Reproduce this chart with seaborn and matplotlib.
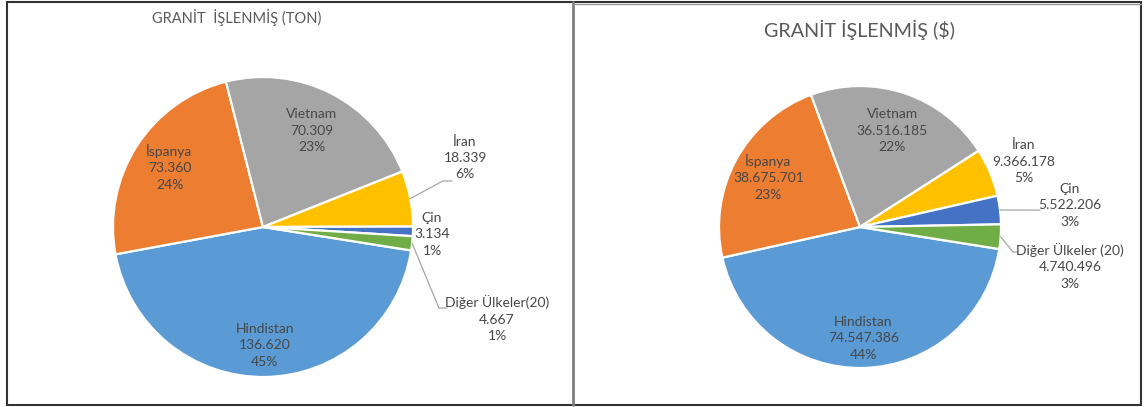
import numpy as np
import matplotlib
matplotlib.use("Agg")
import matplotlib.pyplot as plt
from matplotlib.patches import Rectangle
from matplotlib.lines import Line2D
import seaborn as sns

# ---------------- data ----------------
countries = ["Hindistan", "İspanya", "Vietnam", "İran", "Çin", "Diğer Ülkeler(20)"]
countries_right = ["Hindistan", "İspanya", "Vietnam", "İran", "Çin", "Diğer Ülkeler (20)"]
ton_values = [136620, 73360, 70309, 18339, 3134, 4667]
ton_pct = ["45%", "24%", "23%", "6%", "1%", "1%"]
usd_values = [74547386, 38675701, 36516185, 9366178, 5522206, 4740496]
usd_pct = ["44%", "23%", "22%", "5%", "3%", "3%"]
title_left = "GRANİT  İŞLENMİŞ (TON)"
title_right = "GRANİT İŞLENMİŞ ($)"

# ---------------- style ----------------
sns.set_theme(style="white")
plt.rcParams["font.family"] = ["Lato", "DejaVu Sans"]
colors = ["#5B9BD5", "#ED7D31", "#A5A5A5", "#FFC000", "#4472C4", "#70AD47"]
TXT = "#474747"
W, H = 1147, 407

def fmt(v):
    return f"{v:,}".replace(",", ".")

fig = plt.figure(figsize=(W / 100, H / 100), dpi=100)

def px_axes(cx, cy, r):
    return fig.add_axes([(cx - r) / W, (H - cy - r) / H, 2 * r / W, 2 * r / H])

# label placement (in pie-radius units): inside = (radius factor at mid angle), outside = (x, y)
left_layout = {
    0: ("in", 0.79), 1: ("in", 0.74), 2: ("in", 0.72),
    3: ("out", (1.347, 0.46)), 4: ("out", (1.127, -0.047)), 5: ("out", (1.56, -0.613)),
}
left_leaders = {3: [(1.2, 0.307), (1.26, 0.307)], 5: [(1.173, -0.54), (1.227, -0.54)]}
right_layout = {
    0: ("in", 0.79), 1: ("in", 0.74), 2: ("in", 0.72),
    3: ("out", (1.163, 0.461)), 4: ("out", (1.489, 0.156)), 5: ("out", (1.489, -0.277)),
}
right_leaders = {4: [(1.277, 0.12)], 5: [(1.085, -0.177), (1.12, -0.177)]}


def draw(ax, names, values, pcts, layout, leaders):
    wedges, _ = ax.pie(values, colors=colors, startangle=-9, counterclock=False,
                       radius=1.0, wedgeprops=dict(edgecolor="white", linewidth=1.6))
    ax.set_xlim(-1, 1)
    ax.set_ylim(-1, 1)
    ax.axis("off")
    for i, w in enumerate(wedges):
        mid = np.deg2rad((w.theta1 + w.theta2) / 2)
        label = f"{names[i]}\n{fmt(values[i])}\n{pcts[i]}"
        kind, pos = layout[i]
        if kind == "in":
            x, y = pos * np.cos(mid), pos * np.sin(mid)
        else:
            x, y = pos
        ax.text(x, y, label, ha="center", va="center", fontsize=10, color=TXT,
                linespacing=1.45, clip_on=False)
        if i in leaders:
            pts = [(np.cos(mid), np.sin(mid))] + leaders[i]
            xs, ys = zip(*pts)
            ax.add_line(Line2D(xs, ys, color="#A6A6A6", linewidth=0.9, clip_on=False))


axL = px_axes(263, 227, 150)
draw(axL, countries, ton_values, ton_pct, left_layout, left_leaders)
axR = px_axes(860, 227, 141)
draw(axR, countries_right, usd_values, usd_pct, right_layout, right_leaders)

fig.text(237 / W, 1 - 17 / H, title_left, ha="center", va="center", fontsize=10.5, color="#595959")
fig.text(859 / W, 1 - 30 / H, title_right, ha="center", va="center", fontsize=14.2, color="#595959")

# panel borders
fig.add_artist(Rectangle((7 / W, 2 / H), 1134 / W, 403 / H, transform=fig.transFigure,
                         fill=False, edgecolor="#333333", linewidth=1.5))
fig.add_artist(Line2D([573 / W, 573 / W], [2 / H, 405 / H], transform=fig.transFigure,
                      color="#7F7F7F", linewidth=2))
fig.add_artist(Line2D([574 / W, 1141 / W], [403 / H, 403 / H], transform=fig.transFigure,
                      color="#9A9A9A", linewidth=1))

fig.savefig("out.png", dpi=100)
